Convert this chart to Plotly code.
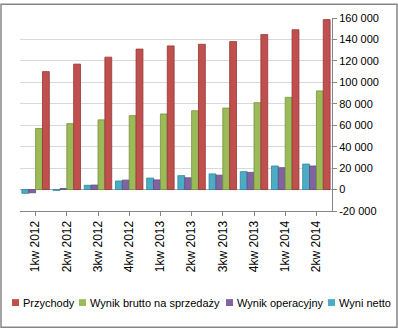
import plotly.graph_objects as go

quarters = ["1kw 2012", "2kw 2012", "3kw 2012", "4kw 2012", "1kw 2013",
            "2kw 2013", "3kw 2013", "4kw 2013", "1kw 2014", "2kw 2014"]

przychody = [110000, 117000, 123500, 131000, 134000, 135500, 138000, 144500, 149000, 158500]
wynik_brutto = [57000, 61500, 65000, 69000, 70500, 73500, 76000, 81000, 86000, 92000]
wynik_operacyjny = [-3000, 1000, 4200, 8800, 9000, 11000, 13400, 16000, 20400, 22000]
wynik_netto = [-3500, -800, 4000, 8000, 10700, 13000, 14600, 16700, 22000, 23800]

y_ticks = [-20000, 0, 20000, 40000, 60000, 80000, 100000, 120000, 140000, 160000]
y_tick_text = ["-20 000", "0", "20 000", "40 000", "60 000", "80 000",
               "100 000", "120 000", "140 000", "160 000"]

# drawn left to right inside each quarter
series = [
    ("Wyni netto", wynik_netto, "#4BACC6", "#31859C"),
    ("Wynik operacyjny", wynik_operacyjny, "#8064A2", "#5F4B7A"),
    ("Wynik brutto na sprzedaży", wynik_brutto, "#9BBB59", "#76923C"),
    ("Przychody", przychody, "#C0504D", "#943634"),
]

fig = go.Figure()
for name, vals, color, edge in series:
    fig.add_trace(go.Bar(
        x=quarters, y=vals, name=name, showlegend=False,
        marker=dict(color=color, line=dict(color=edge, width=0.8)),
    ))

W, H = 398, 330
ml, mr, mt, mb = 20, 66, 15, 119
pw, ph = W - ml - mr, H - mt - mb


def px_x(px):
    return (px - ml) / pw


def px_y(py):
    return (H - mb - py) / ph


shapes = [dict(
    type="rect", xref="paper", yref="paper",
    x0=px_x(1), x1=px_x(W - 1), y0=px_y(H - 1), y1=px_y(1),
    line=dict(color="#868686", width=1.5), fillcolor="rgba(0,0,0,0)",
    layer="below",
)]
annotations = []

# legend row along the bottom, in the order Przychody -> Wyni netto
legend_row = [
    ("Przychody", "#C0504D", 12),
    ("Wynik brutto na sprzedaży", "#9BBB59", 79),
    ("Wynik operacyjny", "#8064A2", 226),
    ("Wyni netto", "#4BACC6", 328),
]
ly = 304
for name, color, sx in legend_row:
    shapes.append(dict(
        type="rect", xref="paper", yref="paper",
        x0=px_x(sx), x1=px_x(sx + 7), y0=px_y(ly + 3.5), y1=px_y(ly - 3.5),
        line=dict(width=0), fillcolor=color,
    ))
    annotations.append(dict(
        xref="paper", yref="paper", x=px_x(sx + 9), y=px_y(ly),
        xanchor="left", yanchor="middle", showarrow=False,
        text=name, font=dict(size=11, color="#000000"),
    ))

fig.update_layout(
    width=W, height=H,
    margin=dict(l=ml, r=mr, t=mt, b=mb),
    paper_bgcolor="white", plot_bgcolor="white",
    barmode="group", bargap=0.12, bargroupgap=0.0,
    font=dict(family="Liberation Sans, Arial, sans-serif", size=11, color="#000000"),
    showlegend=False,
    xaxis=dict(
        tickangle=-90, showgrid=False, showline=True,
        linecolor="#868686", linewidth=1,
        ticks="outside", ticklen=4, tickcolor="#868686",
        tickfont=dict(size=12),
    ),
    yaxis=dict(
        side="right", range=[-20000, 160000],
        tickvals=y_ticks, ticktext=y_tick_text,
        showgrid=True, gridcolor="#D9D9D9", gridwidth=1,
        zeroline=True, zerolinecolor="#A6A6A6", zerolinewidth=1,
        showline=True, linecolor="#868686", linewidth=1,
        ticks="outside", ticklen=4, tickcolor="#868686",
        tickfont=dict(size=11),
    ),
    shapes=shapes,
    annotations=annotations,
)

fig.write_html("out.html")
